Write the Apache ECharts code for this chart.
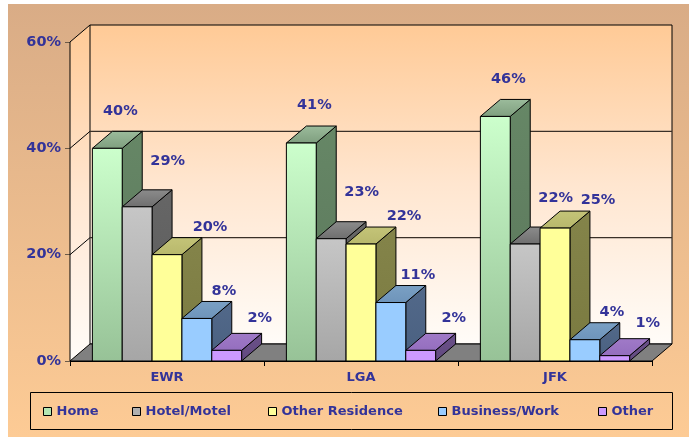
<!DOCTYPE html>
<html>
<head>
<meta charset="utf-8">
<script src="https://cdn.jsdelivr.net/npm/echarts/dist/echarts.min.js"></script>
<style>
  html, body { margin: 0; padding: 0; background: #fff; }
  #chart { width: 689px; height: 438px; }
</style>
</head>
<body>
<div id="chart"></div>
<script>
const CATEGORIES = ['EWR', 'LGA', 'JFK'];
const SERIES_NAMES = ['Home', 'Hotel/Motel', 'Other Residence', 'Business/Work', 'Other'];
const HOME = [40, 41, 46];
const HOTEL = [29, 23, 22];
const OTHER_RES = [20, 22, 25];
const BUSINESS = [8, 11, 4];
const OTHER = [2, 2, 1];
const Y_TICKS = [0, 20, 40, 60];

const VALUES = [HOME, HOTEL, OTHER_RES, BUSINESS, OTHER];

// 3D look
const DX = 20, DY = -17;      // depth offset of the box
const GAP = 1.5;              // gap width, in bar widths
const TEXT = '#333399';
const FONT = 'DejaVu Sans';

const grad = (a, b) => new echarts.graphic.LinearGradient(0, 0, 0, 1, [
  { offset: 0, color: a }, { offset: 1, color: b }
]);

// front / side / top colours per series
const FACES = [
  { front: ['#CCFFCC', '#97C297'], side: ['#668766', '#5A755A'], top: ['#9CBC9C', '#7E9E7E'], key: '#B3E6B3' },
  { front: ['#C6C6C6', '#A6A6A6'], side: ['#666666', '#5A5A5A'], top: ['#8C8C8C', '#6E6E6E'], key: '#B0B0B0' },
  { front: ['#FFFF99', '#FFFF99'], side: ['#84844A', '#7A7A40'], top: ['#C4C478', '#B8B86C'], key: '#FFFF99' },
  { front: ['#99CCFF', '#99CCFF'], side: ['#52698A', '#4A6080'], top: ['#7AA0C4', '#6E94BA'], key: '#99CCFF' },
  { front: ['#CC99FF', '#CC99FF'], side: ['#6A5088', '#624A80'], top: ['#A07AC8', '#946EBE'], key: '#CC99FF' }
];

// where each series puts its value label, relative to the front-top centre of the bar
const LABEL_SHIFT = [[13, -37.5], [30.5, -46], [43, -27.5], [27, -27.3], [33, -32.5]];

const chart = echarts.init(document.getElementById('chart'), null, { renderer: 'canvas' });

function wallsRender(params, api) {
  const bw = api.size([1, 0])[0];
  const xL = api.coord([0, 0])[0] - bw / 2;
  const xR = api.coord([CATEGORIES.length - 1, 0])[0] + bw / 2;
  const y0 = api.coord([0, Y_TICKS[0]])[1];
  const yT = api.coord([0, Y_TICKS[Y_TICKS.length - 1]])[1];
  const wallFill = () => new echarts.graphic.LinearGradient(0, 0, 0, 1, [
    { offset: 0, color: '#FFCA96' },
    { offset: 0.5, color: '#FFE6D0' },
    { offset: 1, color: '#FFFCF8' }
  ]);
  const kids = [
    { type: 'polygon', shape: { points: [[xL, yT], [xL + DX, yT + DY], [xL + DX, y0 + DY], [xL, y0]] },
      style: { fill: wallFill(), stroke: null } },
    { type: 'rect', shape: { x: xL + DX, y: yT + DY, width: xR - xL, height: y0 - yT },
      style: { fill: wallFill(), stroke: '#000', lineWidth: 1 } }
  ];
  Y_TICKS.slice(1, -1).forEach(t => {
    const y = api.coord([0, t])[1];
    kids.push({ type: 'line', shape: { x1: xL + DX, y1: y + DY, x2: xR + DX, y2: y + DY },
      style: { stroke: '#3a3028', lineWidth: 1.2 } });
    kids.push({ type: 'line', shape: { x1: xL, y1: y, x2: xL + DX, y2: y + DY },
      style: { stroke: '#000', lineWidth: 1 } });
  });
  kids.push({ type: 'line', shape: { x1: xL, y1: yT, x2: xL + DX, y2: yT + DY }, style: { stroke: '#000', lineWidth: 1 } });
  kids.push({ type: 'line', shape: { x1: xL, y1: yT, x2: xL, y2: y0 }, style: { stroke: '#000', lineWidth: 1 } });
  kids.push({ type: 'polygon', shape: { points: [[xL, y0], [xL + DX, y0 + DY], [xR + DX, y0 + DY], [xR, y0]] },
    style: { fill: '#808080', stroke: '#000', lineWidth: 1 } });
  return { type: 'group', children: kids };
}

function barRender(sIdx) {
  const f = FACES[sIdx];
  return function (params, api) {
    const cat = api.value(0);
    const v = api.value(1);
    const bw = api.size([1, 0])[0];
    const w = bw / (SERIES_NAMES.length + GAP);
    const top = api.coord([cat, v]);
    const base = api.coord([cat, 0]);
    const x0 = top[0] - bw / 2 + w * GAP / 2 + sIdx * w;
    const x1 = x0 + w;
    const yT = top[1], yB = base[1];
    const edge = { stroke: '#000', lineWidth: 1 };
    return {
      type: 'group',
      children: [
        { type: 'polygon', shape: { points: [[x1, yT], [x1 + DX, yT + DY], [x1 + DX, yB + DY], [x1, yB]] },
          style: Object.assign({ fill: grad(f.side[0], f.side[1]) }, edge) },
        { type: 'polygon', shape: { points: [[x0, yT], [x0 + DX, yT + DY], [x1 + DX, yT + DY], [x1, yT]] },
          style: Object.assign({ fill: grad(f.top[0], f.top[1]) }, edge) },
        { type: 'rect', shape: { x: x0, y: yT, width: w, height: yB - yT },
          style: Object.assign({ fill: grad(f.front[0], f.front[1]) }, edge) },
        { type: 'text', z2: 100,
          x: (x0 + x1) / 2 + LABEL_SHIFT[sIdx][0], y: yT + LABEL_SHIFT[sIdx][1],
          style: { text: v + '%', fill: TEXT, font: 'bold 14.5px "' + FONT + '"', align: 'center', verticalAlign: 'middle' } }
      ]
    };
  };
}

const LEGEND_X = [43, 132, 268, 438, 598];

const option = {
  backgroundColor: '#fff',
  animation: false,
  graphic: {
    elements: [
      { type: 'rect', z: -10, shape: { x: 8, y: 4, width: 681, height: 433 },
        style: { fill: grad('#D9AC86', '#FDCB95') } },
      { type: 'rect', z: -9, shape: { x: 30.5, y: 392.5, width: 642, height: 37 },
        style: { fill: null, stroke: '#000', lineWidth: 1 } }
    ]
  },
  grid: { left: 70, right: 37, top: 42, bottom: 77 },
  xAxis: {
    type: 'category',
    data: CATEGORIES,
    axisLine: { lineStyle: { color: '#000', width: 1 } },
    axisTick: { show: true, length: 5, lineStyle: { color: '#000' } },
    axisLabel: { color: TEXT, fontFamily: FONT, fontWeight: 'bold', fontSize: 13, margin: 10 }
  },
  yAxis: {
    type: 'value',
    min: Y_TICKS[0],
    max: Y_TICKS[Y_TICKS.length - 1],
    interval: Y_TICKS[1] - Y_TICKS[0],
    splitLine: { show: false },
    axisLine: { show: true, lineStyle: { color: '#000', width: 1 } },
    axisTick: { show: true, length: 5, lineStyle: { color: '#6b5a48' } },
    axisLabel: { formatter: '{value}%', color: TEXT, fontFamily: FONT, fontWeight: 'bold', fontSize: 14.5, margin: 9 }
  },
  legend: SERIES_NAMES.map((name, i) => ({
    data: [{ name: name, itemStyle: { color: FACES[i].key, borderColor: '#000', borderWidth: 1 } }],
    left: LEGEND_X[i],
    top: 405,
    padding: 0,
    icon: 'rect',
    itemWidth: 8,
    itemHeight: 8,
    selectedMode: false,
    textStyle: { color: TEXT, fontFamily: FONT, fontWeight: 'bold', fontSize: 13 }
  })),
  series: [
    {
      type: 'custom',
      name: 'walls',
      z: 1,
      silent: true,
      clip: false,
      renderItem: wallsRender,
      data: [[0, 0]]
    }
  ].concat(SERIES_NAMES.map((name, i) => ({
    type: 'custom',
    name: name,
    z: 2,
    clip: false,
    itemStyle: { color: FACES[i].key, borderColor: '#000', borderWidth: 1 },
    renderItem: barRender(i),
    data: VALUES[i].map((v, c) => [c, v])
  })))
};

chart.setOption(option);
window.addEventListener('resize', () => chart.resize());
</script>
</body>
</html>
